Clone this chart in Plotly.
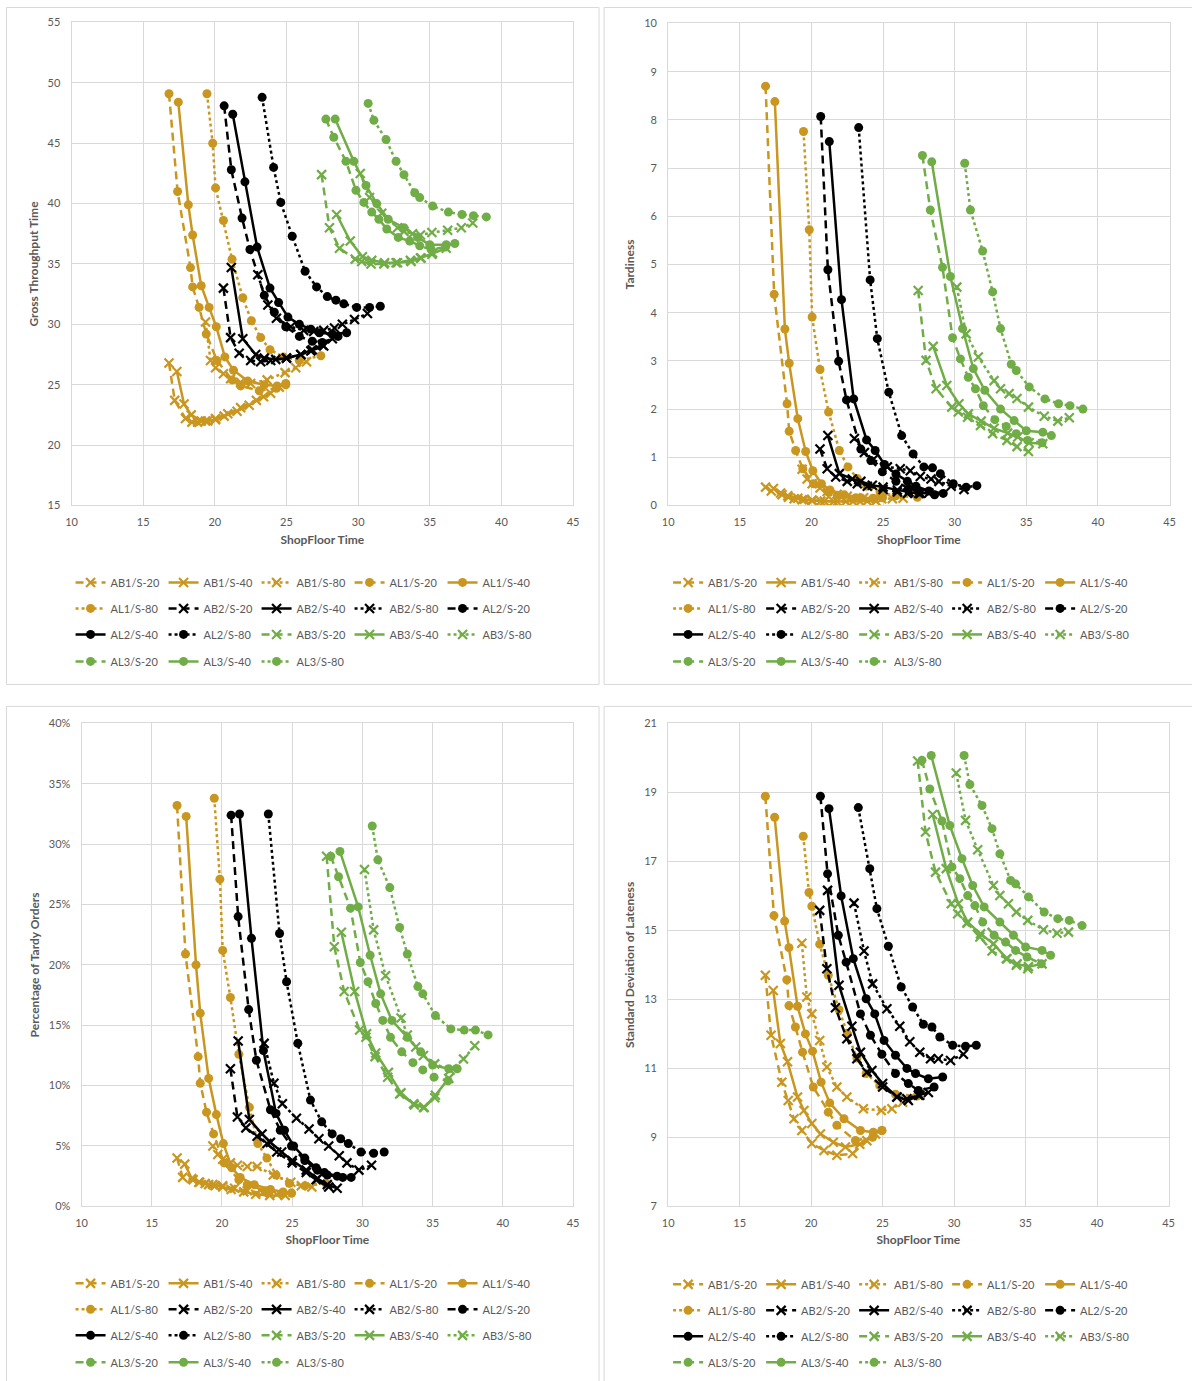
import plotly.graph_objects as go

W, H = 1192, 1381
# the photographed page appears slightly shrunk and offset; positions below are given in
# picture pixels and converted to page pixels with this measured mapping
OFF_X, SC_X = 6.5, 0.989
OFF_Y, SC_Y = 6.5, 0.9907

SERIES = ["AB1/S-20", "AB1/S-40", "AB1/S-80", "AL1/S-20", "AL1/S-40", "AL1/S-80",
          "AB2/S-20", "AB2/S-40", "AB2/S-80", "AL2/S-20", "AL2/S-40", "AL2/S-80",
          "AB3/S-20", "AB3/S-40", "AB3/S-80", "AL3/S-20", "AL3/S-40", "AL3/S-80"]

# ShopFloor Time (x values), one list per series
SHOPFLOOR = [
    [16.8, 17.2, 17.95, 18.4, 18.8, 19.35, 20.05, 20.9, 21.8, 22.9, 23.9],
    [17.35, 17.85, 18.35, 19.05, 19.5, 20.05, 20.65, 21.55, 22.4, 23.4, 24.5],
    [19.35, 19.7, 20.05, 20.6, 21.1, 21.8, 22.5, 23.65, 24.9, 25.65, 26.4],
    [16.8, 17.4, 18.3, 18.45, 18.9, 19.4, 20.15, 21.2, 21.8, 23.1, 24.3, 24.95],
    [17.45, 18.15, 18.45, 19.05, 19.6, 20.1, 20.7, 21.3, 22.3, 23.45, 24.35, 24.95],
    [19.45, 19.85, 20.05, 20.6, 21.2, 21.95, 22.55, 23.2, 23.85, 24.8, 25.9, 27.4],
    [20.6, 21.1, 21.7, 22.5, 23.2, 23.9, 25.0, 26.0, 26.7, 27.6],
    [21.15, 21.95, 22.85, 23.45, 24.25, 25.0, 26.0, 26.8, 27.5, 28.2],
    [23.0, 23.7, 24.3, 25.3, 26.2, 26.9, 27.6, 28.35, 28.9, 29.75, 30.65],
    [20.65, 21.15, 21.9, 22.45, 23.45, 24.15, 24.95, 25.9, 26.8, 27.5, 28.6],
    [21.25, 22.1, 22.95, 23.85, 24.45, 25.1, 25.9, 26.7, 27.3, 28.2, 29.2],
    [23.3, 24.1, 24.6, 25.4, 26.3, 27.1, 27.85, 28.45, 29.0, 29.9, 30.8, 31.55],
    [27.45, 28.0, 28.7, 29.8, 30.25, 30.9, 31.8, 32.65, 33.65, 34.35, 35.15],
    [28.5, 29.45, 30.3, 30.95, 31.85, 32.75, 33.7, 34.4, 35.2, 36.15],
    [30.15, 30.8, 31.65, 32.75, 33.2, 33.8, 34.35, 35.15, 36.25, 37.2, 38.0],
    [27.75, 28.3, 29.15, 29.85, 30.4, 30.95, 31.45, 32.0, 32.8, 33.6, 34.3, 35.1, 36.1],
    [28.4, 29.7, 30.55, 31.3, 32.1, 33.2, 34.15, 35.0, 36.15, 36.75],
    [30.7, 31.1, 31.95, 32.65, 33.2, 33.95, 34.3, 35.2, 36.3, 37.25, 38.05, 38.95],
]

# Gross Throughput Time
GTT = [
    [26.8, 23.7, 22.2, 21.9, 21.9, 22.0, 22.2, 22.6, 23.1, 23.7, 24.3],
    [26.1, 23.4, 22.5, 22.0, 22.0, 22.1, 22.4, 22.8, 23.3, 24.0, 24.8],
    [30.2, 27.0, 26.4, 25.9, 25.5, 25.2, 25.1, 25.4, 26.0, 26.4, 26.9],
    [49.1, 41.0, 34.7, 33.1, 31.4, 29.2, 27.0, 25.4, 24.9, 24.5, 24.7, 25.0],
    [48.4, 39.9, 37.4, 33.2, 31.4, 29.8, 27.3, 26.2, 25.3, 25.0, 24.9, 25.1],
    [49.1, 45.0, 41.3, 38.6, 35.4, 32.2, 30.3, 28.9, 27.9, 27.3, 27.0, 27.4],
    [33.0, 28.9, 27.6, 27.0, 26.9, 27.0, 27.2, 27.5, 27.8, 28.2],
    [34.7, 28.8, 27.5, 27.2, 27.1, 27.2, 27.5, 27.9, 28.3, 28.8],
    [34.1, 31.6, 30.5, 29.8, 29.5, 29.4, 29.5, 29.7, 30.0, 30.4, 30.9],
    [48.1, 42.8, 38.8, 36.2, 32.4, 31.0, 29.8, 29.0, 28.6, 28.5, 29.0],
    [47.4, 41.8, 36.4, 33.0, 31.8, 30.6, 30.0, 29.6, 29.3, 29.2, 29.3],
    [48.8, 43.0, 40.1, 37.3, 34.4, 33.1, 32.3, 32.0, 31.7, 31.4, 31.4, 31.5],
    [42.4, 38.0, 36.3, 35.4, 35.2, 35.0, 35.0, 35.1, 35.3, 35.5, 35.8],
    [39.1, 36.9, 35.6, 35.3, 35.1, 35.1, 35.2, 35.5, 35.9, 36.3],
    [42.5, 40.5, 39.2, 38.0, 37.7, 37.5, 37.4, 37.6, 37.8, 38.0, 38.4],
    [47.0, 45.5, 43.5, 41.1, 40.1, 39.3, 38.7, 37.9, 37.2, 36.9, 36.5, 36.2, 36.4],
    [47.0, 43.5, 41.5, 40.0, 38.7, 38.0, 37.2, 36.6, 36.6, 36.7],
    [48.3, 46.9, 45.3, 43.5, 42.4, 40.9, 40.5, 39.8, 39.3, 39.1, 39.0, 38.9],
]

# Tardiness
TARDINESS = [
    [0.38, 0.3, 0.22, 0.17, 0.14, 0.12, 0.1, 0.09, 0.08, 0.08, 0.09],
    [0.35, 0.26, 0.2, 0.15, 0.13, 0.11, 0.09, 0.08, 0.08, 0.08, 0.09],
    [0.75, 0.55, 0.45, 0.36, 0.29, 0.23, 0.19, 0.16, 0.14, 0.14, 0.15],
    [8.7, 4.38, 2.11, 1.54, 1.14, 0.76, 0.45, 0.27, 0.21, 0.16, 0.15, 0.17],
    [8.38, 3.66, 2.95, 1.8, 1.12, 0.72, 0.45, 0.32, 0.22, 0.16, 0.14, 0.16],
    [7.76, 5.72, 3.91, 2.82, 1.94, 1.14, 0.8, 0.56, 0.4, 0.27, 0.2, 0.17],
    [1.17, 0.76, 0.59, 0.5, 0.45, 0.4, 0.33, 0.28, 0.25, 0.25],
    [1.45, 0.66, 0.55, 0.5, 0.42, 0.38, 0.32, 0.28, 0.25, 0.26],
    [1.39, 1.1, 0.95, 0.8, 0.76, 0.72, 0.6, 0.55, 0.5, 0.4, 0.33],
    [8.07, 4.89, 2.99, 2.19, 1.17, 0.93, 0.7, 0.5, 0.35, 0.28, 0.22],
    [7.55, 4.27, 2.21, 1.36, 1.14, 0.85, 0.65, 0.5, 0.4, 0.3, 0.25],
    [7.84, 4.68, 3.46, 2.35, 1.45, 1.07, 0.8, 0.78, 0.66, 0.45, 0.38, 0.41],
    [4.46, 3.01, 2.42, 2.04, 1.94, 1.83, 1.66, 1.49, 1.35, 1.22, 1.12],
    [3.3, 2.49, 2.11, 1.9, 1.75, 1.6, 1.5, 1.42, 1.3, 1.28],
    [4.53, 3.56, 3.08, 2.59, 2.42, 2.32, 2.22, 2.04, 1.85, 1.75, 1.82],
    [7.26, 6.13, 4.94, 3.48, 3.04, 2.66, 2.42, 2.07, 1.78, 1.64, 1.49, 1.35, 1.3],
    [7.13, 4.75, 3.67, 2.84, 2.39, 2.0, 1.76, 1.55, 1.52, 1.45],
    [7.1, 6.13, 5.28, 4.43, 3.67, 2.93, 2.8, 2.46, 2.21, 2.11, 2.07, 2.0],
]

# Percentage of Tardy Orders (in %)
PCT_TARDY = [
    [4.0, 2.4, 2.2, 2.0, 1.9, 1.8, 1.7, 1.5, 1.3, 1.1, 1.0],
    [3.5, 2.3, 2.0, 1.8, 1.7, 1.6, 1.4, 1.2, 1.0, 0.9, 0.9],
    [5.0, 4.3, 3.9, 3.6, 3.4, 3.3, 3.3, 2.6, 2.0, 1.7, 1.6],
    [33.2, 20.9, 12.4, 10.2, 7.8, 6.0, 3.6, 2.2, 1.8, 1.3, 1.1, 1.1],
    [32.3, 20.0, 16.0, 10.6, 7.6, 5.2, 3.2, 2.4, 1.8, 1.4, 1.2, 1.1],
    [33.8, 27.1, 21.2, 17.3, 12.6, 8.2, 5.2, 4.0, 2.6, 1.9, 1.7, 1.9],
    [11.4, 7.4, 6.5, 5.8, 5.2, 4.5, 3.6, 2.8, 2.2, 1.6],
    [13.7, 7.2, 6.0, 5.3, 4.5, 3.8, 3.0, 2.3, 1.8, 1.5],
    [13.5, 10.2, 8.5, 7.3, 6.4, 5.6, 5.0, 4.2, 3.6, 3.0, 3.4],
    [32.4, 24.0, 16.3, 12.1, 8.0, 6.3, 5.0, 3.8, 3.0, 2.6, 2.4],
    [32.5, 22.2, 12.9, 7.7, 6.3, 5.0, 4.0, 3.2, 2.8, 2.5, 2.4],
    [32.5, 22.6, 18.6, 13.5, 8.8, 7.0, 6.0, 5.6, 5.2, 4.5, 4.4, 4.5],
    [29.0, 21.5, 17.8, 14.6, 14.0, 12.4, 10.7, 9.3, 8.5, 8.2, 9.0],
    [22.7, 17.8, 14.3, 12.7, 11.1, 9.4, 8.4, 8.2, 9.2, 10.6],
    [27.9, 22.9, 19.1, 15.6, 14.2, 13.2, 12.5, 11.8, 11.3, 12.2, 13.3],
    [29.0, 27.3, 24.7, 20.2, 18.6, 16.8, 15.4, 14.0, 12.8, 11.9, 11.3, 10.7, 10.4],
    [29.4, 24.8, 20.8, 17.6, 15.4, 14.0, 12.8, 11.7, 11.4, 11.4],
    [31.5, 28.7, 26.4, 23.1, 20.9, 18.2, 17.6, 15.8, 14.7, 14.6, 14.6, 14.2],
]

# Standard Deviation of Lateness
STD_LATENESS = [
    [13.7, 11.96, 10.6, 10.07, 9.54, 9.2, 8.82, 8.62, 8.48, 8.53, 8.9],
    [13.26, 11.72, 11.19, 10.17, 9.78, 9.4, 9.1, 8.86, 8.72, 8.8, 9.1],
    [14.63, 13.07, 12.58, 11.81, 11.04, 10.46, 10.17, 9.83, 9.78, 9.83, 10.02],
    [18.89, 15.43, 13.57, 12.82, 12.2, 11.47, 10.46, 9.73, 9.35, 8.91, 9.0, 9.2],
    [18.28, 15.27, 14.5, 12.8, 12.0, 11.5, 10.6, 10.0, 9.54, 9.2, 9.15, 9.2],
    [17.73, 16.1, 15.7, 14.6, 13.7, 12.7, 12.0, 11.3, 10.85, 10.5, 10.25, 10.2],
    [15.58, 13.89, 12.76, 11.86, 11.28, 10.89, 10.46, 10.17, 10.12, 10.22],
    [16.16, 13.41, 12.22, 11.47, 10.94, 10.56, 10.17, 10.07, 10.22, 10.3],
    [15.79, 14.4, 13.45, 12.73, 12.22, 11.77, 11.47, 11.28, 11.28, 11.23, 11.41],
    [18.89, 16.64, 14.86, 14.08, 12.58, 11.96, 11.41, 10.85, 10.56, 10.36, 10.46],
    [18.53, 16.0, 14.18, 13.02, 12.58, 11.81, 11.38, 11.0, 10.85, 10.7, 10.75],
    [18.56, 16.79, 15.63, 14.54, 13.36, 12.78, 12.28, 12.2, 11.91, 11.67, 11.64, 11.67],
    [19.91, 17.85, 16.69, 15.77, 15.48, 15.21, 14.81, 14.4, 14.18, 13.99, 13.89],
    [18.36, 16.79, 15.77, 15.24, 14.9, 14.61, 14.18, 14.03, 13.95, 14.03],
    [19.56, 18.19, 17.34, 16.3, 16.01, 15.77, 15.53, 15.29, 15.02, 14.92, 14.95],
    [19.93, 19.1, 18.17, 16.84, 16.5, 16.01, 15.72, 15.24, 14.86, 14.66, 14.42, 14.23, 14.03],
    [20.07, 18.04, 17.08, 16.3, 15.68, 15.24, 14.86, 14.52, 14.42, 14.28],
    [20.07, 19.23, 18.62, 17.95, 17.22, 16.45, 16.35, 15.97, 15.53, 15.34, 15.29, 15.14],
]

X_TICKS = [10, 15, 20, 25, 30, 35, 40, 45]
Y_TITLES = ["Gross Throughput Time", "Tardiness", "Percentage of Tardy Orders",
            "Standard Deviation of Lateness"]

GROUP_COLORS = {"1": "#C9961F", "2": "#000000", "3": "#70AD47"}
DASHES = {"S-20": "8px,5px", "S-40": "solid", "S-80": "3px,3px"}

FONT = "Lato, 'Open Sans', sans-serif"
TXT = "#595959"
GRID = "#D9D9D9"


def px_x(px):
    return ((px - OFF_X) / SC_X) / W


def px_y(py):
    return 1 - ((py - OFF_Y) / SC_Y) / H


# plot-area boxes in picture pixels (left, right, top, bottom)
BOXES = [(72, 573, 22, 505), (668, 1169, 23, 505), (82, 573, 723, 1206), (668, 1168, 723, 1206)]
LEG_X = [71, 668, 71, 668]
LEG_Y = [[582, 608, 634, 661], [582, 608, 634, 661], [1283, 1309, 1335, 1362], [1284, 1310, 1336, 1362]]
FRAMES = [(7, 599, 7, 684), (604, 1195, 7, 684), (7, 599, 706, 1390), (604, 1195, 706, 1390)]

metrics = [GTT, TARDINESS, [[v / 100 for v in s] for s in PCT_TARDY], STD_LATENESS]

fig = go.Figure()
for p in range(4):
    suf = "" if p == 0 else str(p + 1)
    for i, name in enumerate(SERIES):
        grp = name[2]
        is_ab = name.startswith("AB")
        s = name.split("/")[1]
        col = GROUP_COLORS[grp]
        leg_idx = p * 4 + i // 5 + 1
        leg = "legend" if leg_idx == 1 else f"legend{leg_idx}"
        if is_ab:
            marker = dict(symbol="x-thin", size=9, color=col, line=dict(width=2.2, color=col))
        else:
            marker = dict(symbol="circle", size=9, color=col, line=dict(width=0))
        fig.add_trace(go.Scatter(
            x=SHOPFLOOR[i], y=metrics[p][i], name=name, mode="lines+markers",
            xaxis="x" + suf, yaxis="y" + suf, legend=leg,
            line=dict(color=col, width=2.5, dash=DASHES[s]),
            marker=marker,
        ))

layout = dict(width=W, height=H, margin=dict(l=0, r=0, t=0, b=0),
              paper_bgcolor="white", plot_bgcolor="white",
              font=dict(family=FONT, color=TXT, size=11), showlegend=True)

y_ranges = [[15, 55], [0, 10], [0, 0.40], [7, 21]]
y_dticks = [5, 1, 0.05, 2]

for p in range(4):
    suf = "" if p == 0 else str(p + 1)
    l, r, t, b = BOXES[p]
    layout["xaxis" + suf] = dict(
        domain=[px_x(l), px_x(r)], anchor="y" + suf, range=[10, 45], tickvals=X_TICKS,
        showgrid=True, gridcolor=GRID, gridwidth=1, zeroline=False,
        showline=True, linecolor=GRID, linewidth=1, mirror=True, ticks="",
        ticklabelstandoff=6, tickfont=dict(size=11, color=TXT, family=FONT),
        title=dict(text="<b>ShopFloor Time</b>", font=dict(size=12, color=TXT, family=FONT), standoff=8),
    )
    ya = dict(
        domain=[px_y(b), px_y(t)], anchor="x" + suf, range=y_ranges[p], dtick=y_dticks[p],
        tick0=y_ranges[p][0],
        showgrid=True, gridcolor=GRID, gridwidth=1, zeroline=False,
        showline=True, linecolor=GRID, linewidth=1, mirror=True, ticks="",
        ticklabelstandoff=8, tickfont=dict(size=11, color=TXT, family=FONT),
        title=dict(text="<b>" + Y_TITLES[p] + "</b>", font=dict(size=12, color=TXT, family=FONT), standoff=6),
    )
    if p == 2:
        ya["tickformat"] = ".0%"
    layout["yaxis" + suf] = ya

    for r in range(4):
        idx = p * 4 + r + 1
        key = "legend" if idx == 1 else f"legend{idx}"
        layout[key] = dict(
            x=px_x(LEG_X[p]), y=px_y(LEG_Y[p][r]), xanchor="left", yanchor="middle",
            orientation="h", bgcolor="rgba(0,0,0,0)", borderwidth=0,
            font=dict(size=11, color=TXT, family=FONT),
            entrywidth=48, entrywidthmode="pixels", itemwidth=30, tracegroupgap=0,
        )

layout["shapes"] = [
    dict(type="rect", xref="paper", yref="paper", x0=px_x(a), x1=px_x(b_), y0=px_y(d), y1=px_y(c),
         line=dict(color=GRID, width=1), fillcolor="rgba(0,0,0,0)", layer="below")
    for (a, b_, c, d) in FRAMES
]

fig.update_layout(**layout)
fig.write_html("out.html", config={"displayModeBar": False},
               post_script="document.body.style.margin='0px';document.body.style.overflow='hidden';")
